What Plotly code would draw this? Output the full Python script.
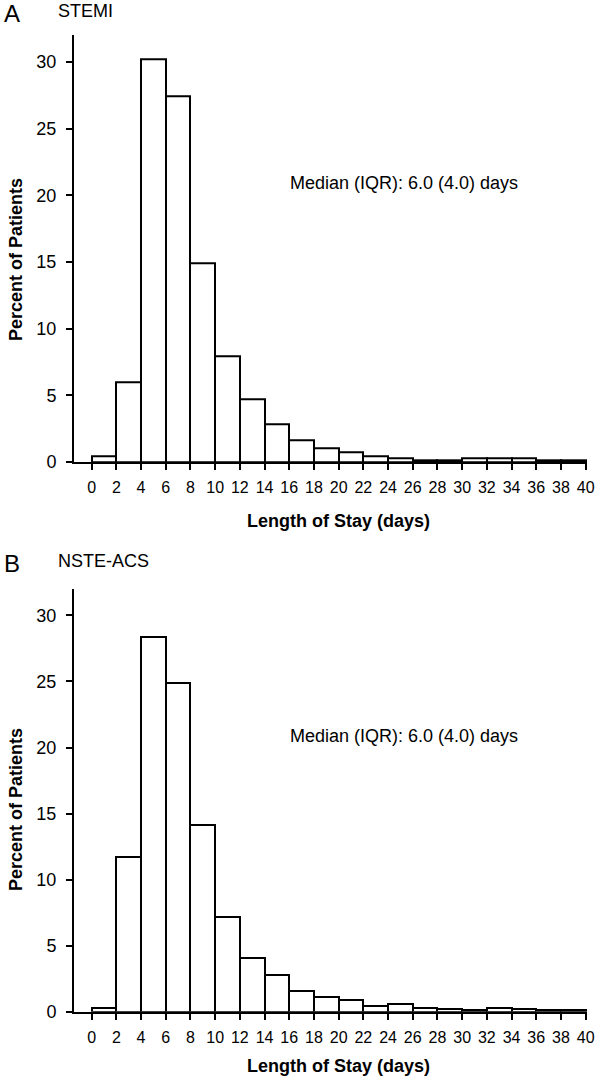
import plotly.graph_objects as go

# Data
bin_centers = [1, 3, 5, 7, 9, 11, 13, 15, 17, 19, 21, 23, 25, 27, 29, 31, 33, 35, 37, 39]
stemi_pct = [0.4, 6.0, 30.2, 27.4, 14.9, 7.9, 4.7, 2.8, 1.6, 1.0, 0.75, 0.45, 0.25, 0.15, 0.1, 0.25, 0.25, 0.25, 0.12, 0.12]
nste_pct = [0.25, 11.7, 28.4, 24.9, 14.1, 7.2, 4.1, 2.8, 1.55, 1.1, 0.85, 0.45, 0.55, 0.28, 0.2, 0.16, 0.27, 0.2, 0.1, 0.1]
x_ticks = list(range(0, 41, 2))
y_ticks = [0, 5, 10, 15, 20, 25, 30]
panel_letters = ["A", "B"]
panel_titles = ["STEMI", "NSTE-ACS"]
median_text = "Median (IQR): 6.0 (4.0) days"

W, H = 600, 1078
FONT = "Liberation Sans, Arial, Helvetica, sans-serif"

fig = go.Figure()
for i, vals in enumerate([stemi_pct, nste_pct]):
    suffix = "" if i == 0 else str(i + 1)
    fig.add_trace(go.Bar(
        x=bin_centers, y=vals, width=2,
        marker=dict(color="white", line=dict(color="black", width=2)),
        xaxis="x" + suffix, yaxis="y" + suffix, showlegend=False,
        hoverinfo="x+y",
    ))

def px2py(p):
    return 1 - p / H

def px2px(p):
    return (p - 74) / (W - 74 - 13)

xcommon = dict(range=[-1.43, 40.11], tickmode="array", tickvals=x_ticks,
               ticks="outside", ticklen=6, tickwidth=2, tickcolor="black",
               showline=True, linewidth=2, linecolor="black", showgrid=False,
               zeroline=False, tickfont=dict(family=FONT, size=16, color="black"),
               ticklabelstandoff=4, automargin=False,
               domain=[0, 1], fixedrange=True)
ycommon = dict(range=[0, 32], tickmode="array", tickvals=y_ticks,
               ticks="outside", ticklen=6, tickwidth=2, tickcolor="black",
               showline=True, linewidth=2, linecolor="black", showgrid=False,
               zeroline=False, tickfont=dict(family=FONT, size=18, color="black"),
               ticklabelstandoff=6, automargin=False, fixedrange=True)

fig.update_layout(
    width=W, height=H,
    margin=dict(l=74, r=13, t=0, b=0),
    plot_bgcolor="white", paper_bgcolor="white",
    bargap=0,
    xaxis=dict(xcommon, anchor="y"),
    yaxis=dict(ycommon, domain=[px2py(462), px2py(35.3)], anchor="x"),
    xaxis2=dict(xcommon, anchor="y2"),
    yaxis2=dict(ycommon, domain=[px2py(1011.7), px2py(589)], anchor="x2"),
    font=dict(family=FONT, color="black"),
)

annotations = []
offsets = [0, 550]
xtitle_y = [521, 1066]
for i in range(2):
    suffix = "" if i == 0 else str(i + 1)
    off = offsets[i]
    annotations.append(dict(text=panel_letters[i], xref="paper", yref="paper",
                            x=px2px(2), y=px2py(13 + off), xanchor="left", yanchor="middle",
                            showarrow=False, font=dict(family=FONT, size=24, color="black")))
    annotations.append(dict(text=panel_titles[i], xref="paper", yref="paper",
                            x=px2px(56), y=px2py(11 + off), xanchor="left", yanchor="middle",
                            showarrow=False, font=dict(family=FONT, size=18, color="black")))
    annotations.append(dict(text=median_text, xref="x" + suffix, yref="y" + suffix,
                            x=15.9, y=20.9, xanchor="left", yanchor="middle",
                            showarrow=False, font=dict(family=FONT, size=18, color="black")))
    annotations.append(dict(text="<b>Percent of Patients</b>", xref="paper", yref="paper",
                            x=px2px(16), y=px2py(260 + off), xanchor="center", yanchor="middle",
                            textangle=-90, showarrow=False,
                            font=dict(family=FONT, size=18, color="black")))
    annotations.append(dict(text="<b>Length of Stay (days)</b>", xref="paper", yref="paper",
                            x=px2px(338), y=px2py(xtitle_y[i]), xanchor="center", yanchor="middle",
                            showarrow=False, font=dict(family=FONT, size=18, color="black")))
fig.update_layout(annotations=annotations)

fig.write_html("out.html", config={"displayModeBar": False},
               post_script="document.body.style.margin='0';document.body.style.overflow='hidden';")
